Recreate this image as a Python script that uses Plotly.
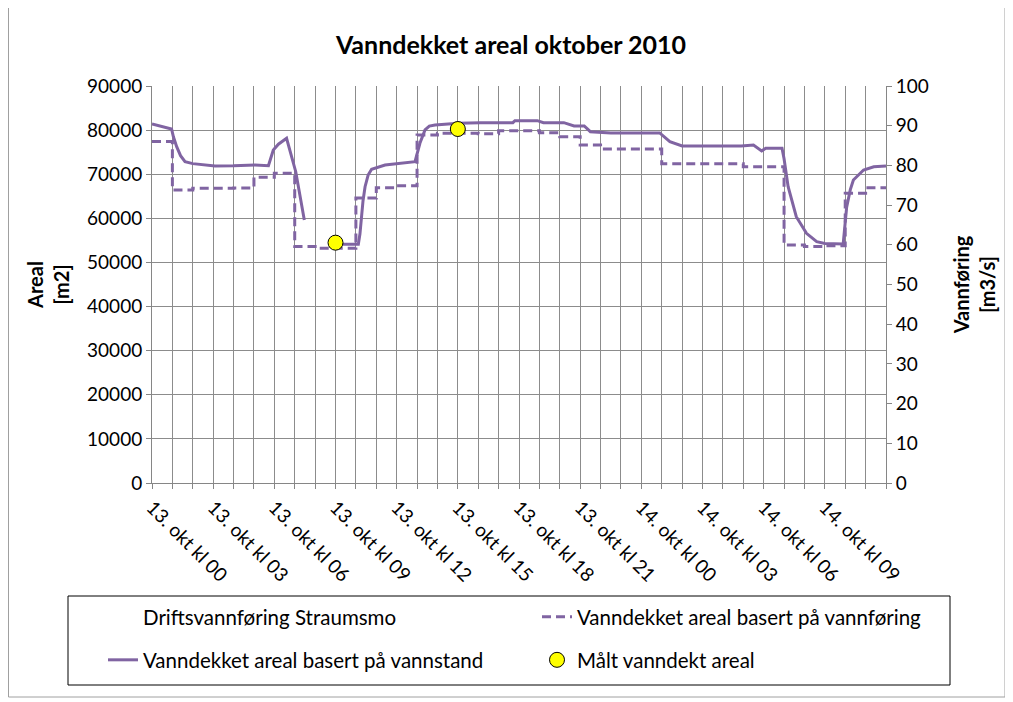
import plotly.graph_objects as go

# ---------------- data ----------------
tick_hours = list(range(0, 37))
tick_labels = ["13. okt kl 00", "13. okt kl 03", "13. okt kl 06", "13. okt kl 09",
               "13. okt kl 12", "13. okt kl 15", "13. okt kl 18", "13. okt kl 21",
               "14. okt kl 00", "14. okt kl 03", "14. okt kl 06", "14. okt kl 09"]

# Vanndekket areal basert på vannføring (hourly step values, m2)
flow_hours = list(range(0, 37))
flow_areal = [77400, 66400, 66800, 66800, 66900, 69300, 70200, 53600, 53200, 53200,
              64600, 66950, 67400, 78900, 79300, 79300, 79200, 79870, 79870, 79420,
              78510, 76630, 75720, 75720, 75720, 72400, 72400, 72400, 72400, 71700,
              71700, 53950, 53600, 53800, 65680, 66950, 66950]

# Vanndekket areal basert på vannstand (m2)
level_hours = [0, 0.5, 0.96, 1.05, 1.21, 1.4, 1.62, 2.0, 2.27, 3.09, 4.0, 5.05, 5.71,
               5.95, 6.2, 6.52, 6.6, 7.05, 7.47, None,
               8.7, 9.5, 10.12, 10.2, 10.25, 10.35, 10.45, 10.6, 10.77, 11.43, 12.9,
               13.0, 13.14, 13.39, 13.6, 13.88, 15.02, 16.1, 17.7, 17.8, 18.9, 19.2,
               20.2, 20.7, 21.2, 21.5, 22.5, 24.9, 25.4, 26.0, 28.9, 29.5, 29.9, 30.1,
               30.9, 31.0, 31.2, 31.6, 32.1, 32.6, 33.0, 33.9, 33.97, 34.07, 34.25, 34.4,
               34.9, 35.4, 36.0]
level_areal = [81400, 80800, 80250, 78500, 76240, 74200, 72840, 72400, 72240, 71860,
               71900, 72090, 71930, 75490, 76800, 77910, 78140, 70570, 59620, None,
               54100, 54200, 54110, 56500, 59620, 64000, 67170, 69800, 71110, 72090,
               72840, 74500, 77010, 80030, 80900, 81160, 81540, 81690, 81690, 82140,
               82140, 81690, 81690, 80930, 80930, 79640, 79350, 79350, 77380, 76400,
               76400, 76600, 75260, 75880, 75880, 73500, 67170, 60370, 56610, 54700,
               54300, 54180, 57500, 62500, 66500, 68690, 70960, 71700, 71860]

# Målt vanndekt areal (m2)
measured_hours = [9.0, 15.0]
measured_areal = [54480, 80250]

# Driftsvannføring Straumsmo (m3/s) - not drawn visibly in the chart
drift_hours = [0, 36]
drift_flow = [0, 0]

# ---------------- figure ----------------
PURPLE = "#8064A2"
FONT = "Lato, 'Liberation Sans', Arial, sans-serif"
GRID = "#8c8c8c"
AXC = "#868686"

# page body has an 8px margin: figure is placed at (8, 8) on the screen
OFF = 8
W, H = 1013 - OFF, 702 - OFF
L, R, T, B = 152 - OFF, W - (886 - OFF), 86 - OFF, H - (483 - OFF)
pw, ph = W - L - R, H - T - B


def px(x):
    """screen x -> paper x"""
    return (x - OFF - L) / pw


def py(y):
    """screen y -> paper y"""
    return (H - B - (y - OFF)) / ph


ticktext = []
for h in tick_hours:
    if h % 3 == 0 and h // 3 < len(tick_labels):
        ticktext.append(tick_labels[h // 3])
    else:
        ticktext.append("")

fig = go.Figure()

fig.add_trace(go.Scatter(
    x=drift_hours, y=drift_flow, yaxis="y2", mode="lines",
    line=dict(color="rgba(255,255,255,0)", width=3),
    name="Driftsvannføring Straumsmo", legend="legend", showlegend=True))

fig.add_trace(go.Scatter(
    x=flow_hours, y=flow_areal, mode="lines", line_shape="hv",
    line=dict(color=PURPLE, width=3, dash="9px,5px"),
    name="Vanndekket areal basert på vannføring", legend="legend2", showlegend=True))

fig.add_trace(go.Scatter(
    x=level_hours, y=level_areal, mode="lines", connectgaps=False,
    line=dict(color=PURPLE, width=3),
    name="Vanndekket areal basert på vannstand", legend="legend3", showlegend=True))

fig.add_trace(go.Scatter(
    x=measured_hours, y=measured_areal, mode="markers",
    marker=dict(color="#FFFF00", size=15, line=dict(color="black", width=1)),
    name="Målt vanndekt areal", legend="legend4", showlegend=True))

LEGFONT = dict(size=20.5)


def leg(x, y):
    return dict(orientation="h", x=px(x), xanchor="left", y=py(y), yanchor="middle",
                bgcolor="rgba(0,0,0,0)", font=LEGFONT, borderwidth=0, visible=True)


fig.update_layout(
    width=W, height=H,
    showlegend=True,
    margin=dict(l=L, r=R, t=T, b=B, autoexpand=False),
    paper_bgcolor="white", plot_bgcolor="white",
    font=dict(family=FONT, size=19, color="black"),
    title=dict(text="<b>Vanndekket areal oktober 2010</b>", x=(511 - OFF) / W,
               xanchor="center", y=1 - (45 - OFF) / H, yanchor="middle",
               font=dict(size=25, family=FONT)),
    xaxis=dict(range=[0, 36], tickvals=tick_hours, ticktext=ticktext, tickangle=45,
               showgrid=True, gridcolor=GRID, gridwidth=1,
               showline=True, linecolor=AXC, linewidth=1,
               ticks="outside", ticklen=5, tickcolor=AXC,
               tickfont=dict(size=19), zeroline=False),
    yaxis=dict(range=[0, 90000], dtick=10000, tickformat="d",
               showgrid=True, gridcolor=GRID, gridwidth=1,
               showline=True, linecolor=AXC, linewidth=1,
               ticks="outside", ticklen=5, tickcolor=AXC,
               tickfont=dict(size=19), zeroline=False,
               title=dict(text="<b>Areal<br>[m2]</b>", font=dict(size=20), standoff=12)),
    yaxis2=dict(range=[0, 100], dtick=10, overlaying="y", side="right",
                showgrid=False, showline=True, linecolor=AXC, linewidth=1,
                ticks="outside", ticklen=5, tickcolor=AXC,
                tickfont=dict(size=19), zeroline=False,
                title=dict(text="<b>Vannføring<br>[m3/s]</b>", font=dict(size=20), standoff=27)),
    legend=leg(103, 617),
    legend2=leg(537, 617),
    legend3=leg(103, 660),
    legend4=leg(537, 660),
    shapes=[
        dict(type="rect", xref="paper", yref="paper",
             x0=px(68), x1=px(950), y0=py(596), y1=py(685),
             line=dict(color="black", width=1)),
        dict(type="rect", xref="paper", yref="paper",
             x0=px(8.5), x1=px(1005), y0=py(4), y1=py(697),
             line=dict(color="#a0a0a0", width=1)),
    ],
    hovermode=False,
)

fig.write_html("out.html")
